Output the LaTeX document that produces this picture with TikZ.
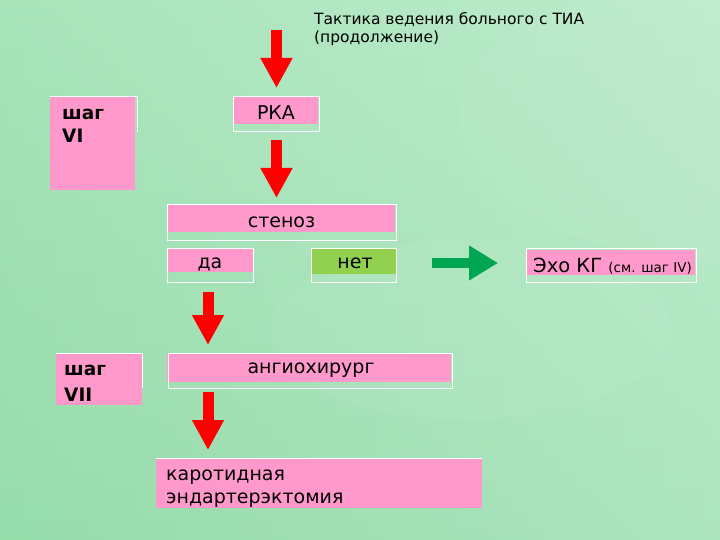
\documentclass[tikz,border=0pt]{standalone}
\usepackage{fontspec}
\setmainfont{DejaVu Sans}
\usetikzlibrary{arrows.meta}
\definecolor{bgA}{HTML}{B9EBC8}
\definecolor{bgB}{HTML}{96DCAB}
\definecolor{bgC}{HTML}{C4EED3}
\definecolor{boxpink}{HTML}{FF99CC}
\definecolor{boxgreen}{HTML}{92D050}
\definecolor{arrred}{HTML}{FF0000}
\definecolor{arrgreen}{HTML}{00A651}
\tikzset{
  pinkbox/.style={fill=boxpink, draw=none, inner sep=0pt, anchor=north west},
  frame/.style={draw=white, line width=1pt},
  redarrow/.style={draw=arrred, line width=11pt, line cap=butt,
     -{Triangle[length=30pt,width=30pt]}},
  greenarrow/.style={draw=arrgreen, line width=10pt, line cap=butt,
     -{Triangle[length=29pt,width=33pt]}},
  boxtext/.style={font=\fontsize{19}{22}\selectfont, text=black, inner sep=0pt, anchor=base},
  steptext/.style={font=\bfseries\fontsize{18.5}{22}\selectfont, text=black, inner sep=0pt, anchor=base west},
}
\begin{document}
\begin{tikzpicture}[x=1pt,y=-1pt]
% background
\useasboundingbox (0,0) rectangle (720,540);
\shade[left color=bgB, right color=bgC] (0,0) rectangle (720,540);
\shade[top color=bgA, bottom color=bgB, opacity=0.5] (0,0) rectangle (720,540);
\fill[white, opacity=0.045] (720,120) ellipse (260 and 140);
\fill[white, opacity=0.045] (470,330) ellipse (200 and 90);

% title
\node[anchor=base west, inner sep=0pt, font=\fontsize{15.5}{18}\selectfont] (title1) at (314,25) {Тактика ведения больного с ТИА};
\node[anchor=base west, inner sep=0pt, font=\fontsize{15.5}{18}\selectfont] (title2) at (314,43) {(продолжение)};

% boxes
\node[pinkbox, minimum width=85pt, minimum height=27pt] (rka) at (233,97) {};
\draw[frame] (233,97) rectangle (319,132);
\node[boxtext] (rkat) at (276,120) {РКА};

\node[pinkbox, minimum width=85pt, minimum height=93pt] (s6) at (50,97) {};
\draw[frame] (50,97) -- (137,97) -- (137,132);
\node[steptext] (s6a) at (62,120) {шаг};
\node[steptext] (s6b) at (62,143) {VI};

\node[pinkbox, minimum width=228pt, minimum height=27pt] (sten) at (167,205) {};
\draw[frame] (167,205) rectangle (396,240);
\node[boxtext] (stent) at (281.5,228) {стеноз};

\node[pinkbox, minimum width=86pt, minimum height=24pt] (da) at (167,248) {};
\draw[frame] (167,248) rectangle (253,282);
\node[boxtext] (dat) at (210,268) {да};

\node[pinkbox, fill=boxgreen, minimum width=85pt, minimum height=26pt] (net) at (311,248) {};
\draw[frame] (311,248) rectangle (396,282);
\node[boxtext] (nett) at (355,268) {нет};

\node[pinkbox, minimum width=169pt, minimum height=25pt] (echo) at (526,250) {};
\draw[frame] (526,248) rectangle (696,282);
\node[anchor=base west, inner sep=0pt] (echot) at (533,272) {\fontsize{19.5}{22}\selectfont Эхо КГ {\fontsize{13.5}{15}\selectfont (см. шаг IV)}};

\node[pinkbox, minimum width=86pt, minimum height=52pt] (s7) at (56,353) {};
\draw[frame] (56,353) -- (142,353) -- (142,388);
\node[steptext] (s7a) at (64,375) {шаг};
\node[steptext] (s7b) at (64,401) {VII};

\node[pinkbox, minimum width=284pt, minimum height=29pt] (angio) at (167,353) {};
\draw[frame] (168,353) rectangle (452,388);
\node[boxtext] (angiot) at (311,373) {ангиохирург};

\node[pinkbox, minimum width=326pt, minimum height=50pt] (kar) at (156,458) {};
\draw[frame] (156,458) -- (482,458);
\node[anchor=base west, inner sep=0pt, font=\fontsize{19}{22}\selectfont] (kart1) at (166,480) {каротидная};
\node[anchor=base west, inner sep=0pt, font=\fontsize{19}{22}\selectfont] (kart2) at (166,503) {эндартерэктомия};

% arrows
\coordinate (a1s) at (276.5,30);
\coordinate (a1e) at (276.5,88);
\coordinate (a2s) at (276.5,140);
\coordinate (a2e) at (276.5,198);
\coordinate (a3s) at (208,292);
\coordinate (a3e) at (208,345);
\coordinate (a4s) at (208,392);
\coordinate (a4e) at (208,450);
\coordinate (gs) at (432,263);
\coordinate (ge) at (498,263);
\draw[redarrow] (a1s) -- (a1e);
\draw[redarrow] (a2s) -- (a2e);
\draw[redarrow] (a3s) -- (a3e);
\draw[redarrow] (a4s) -- (a4e);
\draw[greenarrow] (gs) -- (ge);
\end{tikzpicture}
\end{document}
